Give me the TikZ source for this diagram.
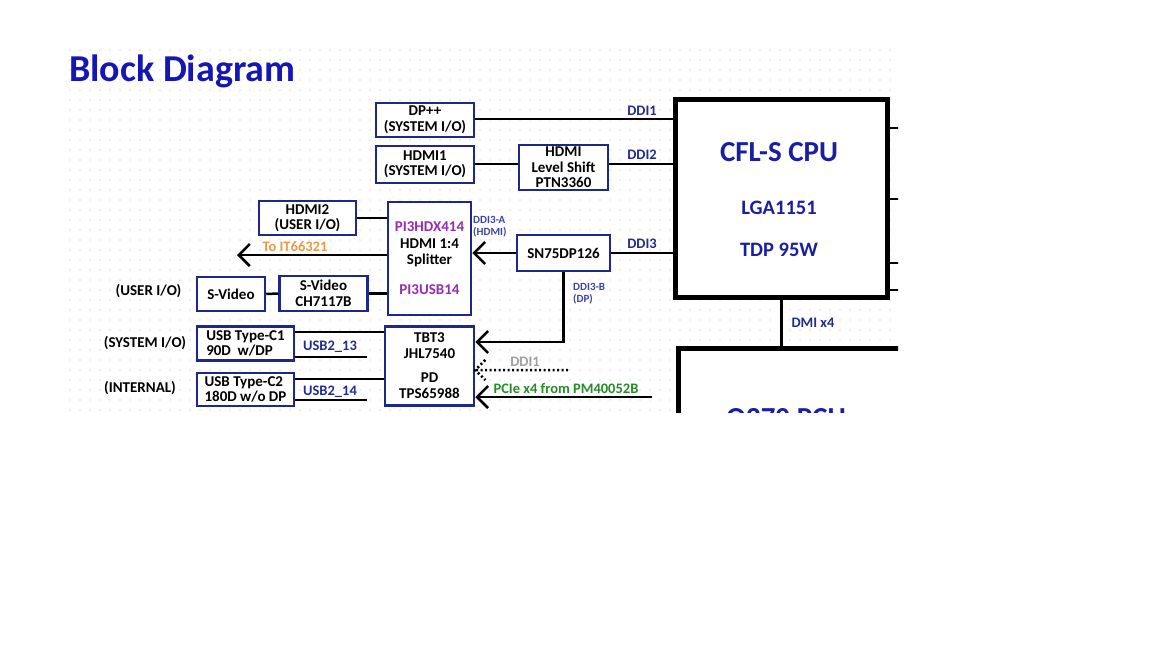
\documentclass[tikz,border=0pt]{standalone}
\usepackage{fontspec}
\setmainfont{Carlito}
\usepackage{xcolor}
\usepackage{tikz}
\usetikzlibrary{arrows.meta, calc}
\definecolor{boxblue}{RGB}{30, 40, 140}
\definecolor{titleblue}{RGB}{22, 22, 180}
\definecolor{cpublue}{RGB}{25, 30, 165}
\definecolor{lblblue}{RGB}{35, 45, 145}
\definecolor{ddiblue}{RGB}{60, 70, 160}
\definecolor{chippurple}{RGB}{150, 45, 175}
\definecolor{itorange}{RGB}{232, 155, 70}
\definecolor{pciegreen}{RGB}{40, 140, 40}
\definecolor{ddigray}{RGB}{160, 160, 160}
\definecolor{griddot}{RGB}{222, 222, 222}

\begin{document}
\begin{tikzpicture}[x=1pt, y=-1pt,
    blk/.style={draw=boxblue, line width=2.5pt, fill=white, align=center, inner sep=0pt,
        font=\bfseries\fontsize{15}{15.5}\selectfont},
    chip/.style={draw=black, line width=5pt, fill=white, inner sep=0pt},
    wire/.style={line width=2.5pt},
    arr/.style={wire, -{Straight Barb[length=11pt, width=22pt]}},
    lbl/.style={text=lblblue, inner sep=0pt, font=\bfseries\fontsize{14.5}{15}\selectfont},
    sublbl/.style={text=ddiblue, inner sep=0pt, align=left, font=\bfseries\fontsize{11}{11.5}\selectfont},
    side/.style={inner sep=0pt, font=\bfseries\fontsize{15}{15}\selectfont}]
    \fill[white] (0,0) rectangle (1152,648);
    \useasboundingbox (0,0) rectangle (1152,648);
    \begin{scope}
    \clip (68,45) rectangle (898,412);
    \foreach \gx in {70,80,...,890}
        \foreach \gy in {50,60,...,410}
            \fill[griddot] (\gx,\gy) circle (0.8pt);

    \node[anchor=west, text=titleblue, inner sep=0pt, font=\bfseries\fontsize{38}{38}\selectfont] (title) at (69,71) {Block Diagram};

    \node[chip, minimum width=212pt, minimum height=198pt] (cpu) at (781.5,198.5) {};
    \node[text=cpublue, font=\bfseries\fontsize{29}{29}\selectfont] (cpuname) at (779,152) {CFL-S CPU};
    \node[text=cpublue, font=\bfseries\fontsize{20.5}{20.5}\selectfont] (cpusock) at (779,208) {LGA1151};
    \node[text=cpublue, font=\bfseries\fontsize{20.5}{20.5}\selectfont] (cputdp) at (779,250) {TDP 95W};
    \node[chip, anchor=north west, minimum width=240pt, minimum height=160pt] (pch) at (675.5,345.5) {};
    \node[text=cpublue, anchor=base, font=\bfseries\fontsize{29}{29}\selectfont] (pchname) at (786,427) {Q270 PCH};

    \node[blk, minimum width=98pt, minimum height=34pt] (dp) at (425,120) {DP++\\(SYSTEM I/O)};
    \node[blk, minimum width=98pt, minimum height=37pt] (hdmione) at (425,164.5) {HDMI1\\(SYSTEM I/O)};
    \node[blk, minimum width=89pt, minimum height=45pt] (lvl) at (563.5,167.5) {HDMI\\Level Shift\\PTN3360};
    \node[blk, minimum width=97pt, minimum height=34pt] (hdmitwo) at (307.5,218) {HDMI2\\(USER I/O)};
    \node[blk, minimum width=83pt, minimum height=113pt, font=\bfseries\fontsize{15}{16.5}\selectfont] (split) at (429.5,258.5)
        {\textcolor{chippurple}{PI3HDX414}\\HDMI 1:4\\Splitter\\[13.5pt]\textcolor{chippurple}{PI3USB14}};
    \node[blk, minimum width=93pt, minimum height=36pt] (sn) at (563.5,253) {SN75DP126};
    \node[blk, minimum width=68pt, minimum height=34pt] (svid) at (231,294) {S-Video};
    \node[blk, minimum width=88pt, minimum height=35pt] (ch) at (323.5,293.5) {S-Video\\CH7117B};
    \node[blk, minimum width=97pt, minimum height=34pt, align=left] (typcone) at (245.5,343.5) {USB Type-C1\\90D\ \ w/DP};
    \node[blk, minimum width=97pt, minimum height=33pt, align=left] (typctwo) at (245.5,389.5) {USB Type-C2\\180D w/o DP};
    \node[blk, minimum width=89pt, minimum height=79pt, font=\bfseries\fontsize{15}{16}\selectfont] (tbt) at (429.5,366)
        {TBT3\\JHL7540\\[8pt]PD\\TPS65988};

    \node[side] (userio) at (148.5,291) {(USER I/O)};
    \node[side] (sysio) at (145,343) {(SYSTEM I/O)};
    \node[side] (intern) at (140,388) {(INTERNAL)};

    \coordinate (itend) at (237,255);
    \coordinate (ddiend) at (568,370);
    \coordinate (pcieend) at (652,397);

    \draw[wire] (dp.east |- 0,119) -- (cpu.west |- 0,119);
    \draw[wire] (hdmione.east |- 0,164) -- (lvl.west |- 0,164);
    \draw[wire] (lvl.east |- 0,164) -- (cpu.west |- 0,164);
    \draw[wire] (hdmitwo.east) -- (hdmitwo.east -| split.west);
    \draw[arr] (split.west |- itend) -- (itend);
    \draw[wire] (svid.east) -- (ch.west);
    \draw[wire] (ch.east) -- (ch.east -| split.west);
    \draw[wire] (cpu.west |- sn.east) -- (sn.east);
    \draw[arr] (sn.west) -- (sn.west -| split.east);
    \draw[arr] (sn.south) |- (tbt.east |- 0,342);
    \draw[line width=2.5pt, dash pattern=on 2pt off 2.5pt] (ddiend) -- (tbt.east |- ddiend)
        ++(10,-10) -- (tbt.east |- ddiend) -- ++(10,10);
    \draw[arr] (pcieend) -- (tbt.east |- pcieend);
    \draw[wire] (typcone.east |- 0,332) -- (tbt.west |- 0,332);
    \draw[wire] (typcone.east |- 0,357) -- ++(72,0);
    \draw[wire] (typctwo.east |- 0,379) -- (tbt.west |- 0,379);
    \draw[wire] (typctwo.east |- 0,400) -- ++(72,0);
    \draw[wire] (cpu.south) -- (cpu.south |- pch.north);
    \foreach \sy in {128,199,263,290}
        \draw[wire] (cpu.east |- 0,\sy) -- ++(14,0);

    \node[lbl] (ddione) at (642,111) {DDI1};
    \node[lbl] (dditwo) at (642,155) {DDI2};
    \node[lbl] (ddithree) at (642,244) {DDI3};
    \node[lbl] (dmi) at (813,323) {DMI x4};
    \node[lbl] (usbone) at (330,347) {USB2\_13};
    \node[lbl] (usbtwo) at (330,392) {USB2\_14};
    \node[sublbl, anchor=west] (ddia) at (473,226.5) {DDI3-A\\(HDMI)};
    \node[sublbl, anchor=west] (ddib) at (573,293.5) {DDI3-B\\(DP)};
    \node[lbl, text=itorange] (itlbl) at (295,247) {To IT66321};
    \node[lbl, text=ddigray] (ddigraylbl) at (525,362) {DDI1};
    \node[lbl, text=pciegreen] (pcielbl) at (566,389) {PCIe x4 from PM40052B};
    \end{scope}
\end{tikzpicture}
\end{document}
